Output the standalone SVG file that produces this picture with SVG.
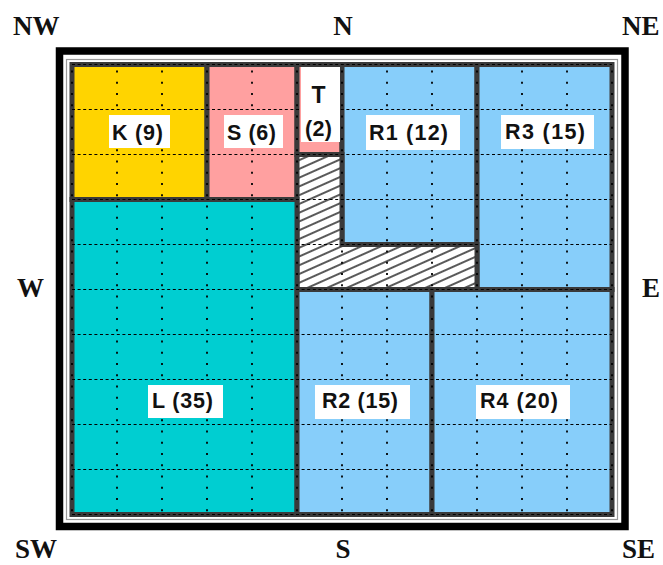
<svg xmlns="http://www.w3.org/2000/svg" width="663" height="565" viewBox="0 0 663 565">
  <defs>
    <pattern id="hatch" patternUnits="userSpaceOnUse" width="12" height="8" patternTransform="rotate(-24)">
      <rect width="12" height="8" fill="#ffffff"/>
      <line x1="0" y1="4" x2="12" y2="4" stroke="#000" stroke-width="1.3"/>
    </pattern>
  </defs>
  <style>
    .cell { stroke: #3a3a3a; stroke-width: 5; stroke-linejoin: miter; }
    .gold { fill: #FFD400; }
    .pink { fill: #FFA0A0; }
    .teal { fill: #00CED1; }
    .blue { fill: #87CEFA; }
    .hgrid { stroke: #000; stroke-width: 1; stroke-dasharray: 3 2.6; }
    .vgrid { stroke: #000; stroke-width: 1.8; stroke-dasharray: 2 9.25; stroke-dashoffset: -6; }
    .lbox { fill: #ffffff; }
    .ltext { font-family: "Liberation Sans", Arial, sans-serif; font-weight: bold; font-size: 21.5px; fill: #111; }
    .dir { font-family: "Liberation Serif", "Times New Roman", serif; font-weight: bold; font-size: 27px; fill: #111; }
  </style>

  <!-- outer frame -->
  <g id="frame" fill="none">
    <rect x="59.5" y="51" width="565.5" height="475.5" stroke="#000" stroke-width="7.5"/>
    <rect x="66.5" y="59.5" width="551" height="460" stroke="#9a9a9a" stroke-width="1.2"/>
  </g>

  <!-- regions -->
  <g id="regions">
    <g id="K"><rect class="cell gold" x="72" y="64.5" width="135" height="135"/></g>
    <g id="S"><rect class="cell pink" x="207" y="64.5" width="90" height="135"/></g>
    <g id="T"><rect class="cell pink" x="297" y="64.5" width="45" height="90"/></g>
    <g id="R1"><rect class="cell blue" x="342" y="64.5" width="135" height="180"/></g>
    <g id="R3"><rect class="cell blue" x="477" y="64.5" width="135" height="225"/></g>
    <g id="free"><path class="cell" fill="url(#hatch)" d="M297 154.5 H342 V244.5 H477 V289.5 H297 Z"/></g>
    <g id="L"><rect class="cell teal" x="72" y="199.5" width="225" height="315"/></g>
    <g id="R2"><rect class="cell blue" x="297" y="289.5" width="135" height="225"/></g>
    <g id="R4"><rect class="cell blue" x="432" y="289.5" width="180" height="225"/></g>
  </g>

  <!-- unit grid -->
  <g id="grid">
    <g class="hgrid">
      <line x1="72" y1="64.5" x2="612" y2="64.5"/>
      <line x1="72" y1="109.5" x2="612" y2="109.5"/>
      <line x1="72" y1="154.5" x2="612" y2="154.5"/>
      <line x1="72" y1="199.5" x2="612" y2="199.5"/>
      <line x1="72" y1="244.5" x2="612" y2="244.5"/>
      <line x1="72" y1="289.5" x2="612" y2="289.5"/>
      <line x1="72" y1="334.5" x2="612" y2="334.5"/>
      <line x1="72" y1="379.5" x2="612" y2="379.5"/>
      <line x1="72" y1="424.5" x2="612" y2="424.5"/>
      <line x1="72" y1="469.5" x2="612" y2="469.5"/>
      <line x1="72" y1="514.5" x2="612" y2="514.5"/>
    </g>
    <g class="vgrid">
      <line x1="72" y1="64.5" x2="72" y2="514.5"/>
      <line x1="117" y1="64.5" x2="117" y2="514.5"/>
      <line x1="162" y1="64.5" x2="162" y2="514.5"/>
      <line x1="207" y1="64.5" x2="207" y2="514.5"/>
      <line x1="252" y1="64.5" x2="252" y2="514.5"/>
      <line x1="297" y1="64.5" x2="297" y2="514.5"/>
      <line x1="342" y1="64.5" x2="342" y2="514.5"/>
      <line x1="387" y1="64.5" x2="387" y2="514.5"/>
      <line x1="432" y1="64.5" x2="432" y2="514.5"/>
      <line x1="477" y1="64.5" x2="477" y2="514.5"/>
      <line x1="522" y1="64.5" x2="522" y2="514.5"/>
      <line x1="567" y1="64.5" x2="567" y2="514.5"/>
      <line x1="612" y1="64.5" x2="612" y2="514.5"/>
    </g>
  </g>

  <!-- region labels -->
  <g id="labels">
    <g id="label-K">
      <rect class="lbox" x="109" y="115" width="61" height="33"/>
      <text class="ltext" x="112" y="140" textLength="51" lengthAdjust="spacing">K (9)</text>
    </g>
    <g id="label-S">
      <rect class="lbox" x="224" y="115" width="59" height="33"/>
      <text class="ltext" x="227" y="140" textLength="49" lengthAdjust="spacing">S (6)</text>
    </g>
    <g id="label-T">
      <rect class="lbox" x="301" y="67" width="39" height="75"/>
      <text class="ltext" x="318.5" y="103" text-anchor="middle" style="font-size:23px">T</text>
      <text class="ltext" x="305" y="136" textLength="27" lengthAdjust="spacing">(2)</text>
    </g>
    <g id="label-R1">
      <rect class="lbox" x="366" y="115" width="94" height="35"/>
      <text class="ltext" x="369" y="140" textLength="79" lengthAdjust="spacing">R1 (12)</text>
    </g>
    <g id="label-R3">
      <rect class="lbox" x="501" y="115" width="93" height="34"/>
      <text class="ltext" x="505" y="139" textLength="80" lengthAdjust="spacing">R3 (15)</text>
    </g>
    <g id="label-L">
      <rect class="lbox" x="148" y="385" width="75" height="33"/>
      <text class="ltext" x="152" y="408" textLength="61" lengthAdjust="spacing">L (35)</text>
    </g>
    <g id="label-R2">
      <rect class="lbox" x="315" y="385" width="95" height="34"/>
      <text class="ltext" x="322" y="408" textLength="76" lengthAdjust="spacing">R2 (15)</text>
    </g>
    <g id="label-R4">
      <rect class="lbox" x="476" y="385" width="94" height="34"/>
      <text class="ltext" x="480" y="408" textLength="78" lengthAdjust="spacing">R4 (20)</text>
    </g>
  </g>

  <!-- compass directions -->
  <g id="compass">
    <text class="dir" x="13" y="35">NW</text>
    <text class="dir" x="343" y="35" text-anchor="middle">N</text>
    <text class="dir" x="622" y="35">NE</text>
    <text class="dir" x="17" y="297">W</text>
    <text class="dir" x="642" y="297">E</text>
    <text class="dir" x="15" y="558">SW</text>
    <text class="dir" x="343" y="558" text-anchor="middle">S</text>
    <text class="dir" x="622" y="558">SE</text>
  </g>
</svg>
